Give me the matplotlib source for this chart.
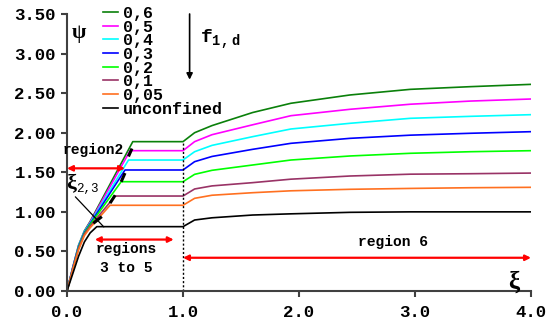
import matplotlib
matplotlib.use('Agg')
import matplotlib.pyplot as plt
from matplotlib.ticker import FormatStrFormatter

plt.rcParams['font.family'] = ['Liberation Mono', 'DejaVu Sans']
plt.rcParams['font.weight'] = 'bold'
plt.rcParams['mathtext.fontset'] = 'custom'
plt.rcParams['mathtext.rm'] = 'Liberation Mono'
plt.rcParams['mathtext.bf'] = 'Liberation Mono:bold'

# curves: confinement ratio f1,d -> (xi, psi) points
labels = ['0,6', '0,5', '0,4', '0,3', '0,2', '0,1', '0,05', 'unconfined']
colors = ['#0a800a', '#ff00ff', '#00ffff', '#0000ff', '#00ff00', '#993366', '#ff7020', 'black']

post_x = [1.0, 1.1, 1.25, 1.6, 1.93, 2.44, 2.96, 3.48, 4.0]

x_06 = [0, 0.05, 0.1, 0.15, 0.2, 0.567] + post_x
y_06 = [0, 0.30, 0.58, 0.76, 0.88, 1.887, 1.887, 2.0, 2.09, 2.255, 2.372, 2.477, 2.548, 2.582, 2.611]
x_05 = [0, 0.05, 0.1, 0.15, 0.2, 0.544] + post_x
y_05 = [0, 0.30, 0.57, 0.75, 0.87, 1.773, 1.773, 1.887, 1.975, 2.10, 2.215, 2.296, 2.36, 2.40, 2.426]
x_04 = [0, 0.05, 0.1, 0.15, 0.2, 0.53] + post_x
y_04 = [0, 0.29, 0.57, 0.75, 0.86, 1.655, 1.655, 1.76, 1.84, 1.95, 2.047, 2.119, 2.182, 2.207, 2.228]
x_03 = [0, 0.05, 0.1, 0.15, 0.2, 0.50] + post_x
y_03 = [0, 0.29, 0.56, 0.74, 0.85, 1.529, 1.529, 1.634, 1.70, 1.79, 1.866, 1.929, 1.969, 1.993, 2.013]
x_02 = [0, 0.05, 0.1, 0.15, 0.2, 0.467] + post_x
y_02 = [0, 0.28, 0.55, 0.73, 0.84, 1.381, 1.381, 1.474, 1.525, 1.592, 1.655, 1.706, 1.74, 1.76, 1.773]
x_01 = [0, 0.05, 0.1, 0.15, 0.2, 0.415] + post_x
y_01 = [0, 0.28, 0.54, 0.72, 0.82, 1.2, 1.2, 1.289, 1.328, 1.369, 1.413, 1.453, 1.476, 1.482, 1.49]
x_005 = [0, 0.05, 0.1, 0.15, 0.2, 0.371] + post_x
y_005 = [0, 0.27, 0.52, 0.70, 0.80, 1.083, 1.083, 1.171, 1.21, 1.242, 1.266, 1.285, 1.296, 1.305, 1.31]
x_unc = [0, 0.05, 0.1, 0.15, 0.2, 0.257] + post_x
y_unc = [0, 0.22, 0.44, 0.62, 0.735, 0.813, 0.813, 0.897, 0.925, 0.96, 0.975, 0.994, 1.0, 1.0, 1.0]

curves_x = [x_06, x_05, x_04, x_03, x_02, x_01, x_005, x_unc]
curves_y = [y_06, y_05, y_04, y_03, y_02, y_01, y_005, y_unc]

# thick black dashes marking xi_2,3
seg_x0 = [0.227, 0.371, 0.467, 0.53]
seg_y0 = [0.855, 1.11, 1.38, 1.70]
seg_x1 = [0.30, 0.415, 0.50, 0.56]
seg_y1 = [0.94, 1.21, 1.49, 1.80]

fig = plt.figure(figsize=(5.46, 3.27), dpi=100)
ax = fig.add_axes([67 / 546, 36 / 327, 464 / 546, 277 / 327])

for xs, ys, c, lab in zip(curves_x, curves_y, colors, labels):
    ax.plot(xs, ys, color=c, lw=1.2, label=lab)

for a, b, c, d in zip(seg_x0, seg_y0, seg_x1, seg_y1):
    ax.plot([a, c], [b, d], color='black', lw=2.2, solid_capstyle='butt')

# dotted line at xi = 1
ax.plot([1.0, 1.0], [0, y_06[6]], color='black', lw=1, ls=(0, (1.5, 1.5)))

# region arrows
red = dict(arrowstyle='<|-|>', color='red', lw=1.6, mutation_scale=8, shrinkA=0, shrinkB=0)
ax.annotate('', xy=(0.0, 1.55), xytext=(0.5, 1.55), arrowprops=red)
ax.annotate('', xy=(0.24, 0.65), xytext=(0.92, 0.65), arrowprops=red)
ax.annotate('', xy=(1.0, 0.42), xytext=(4.0, 0.42), arrowprops=red)

ax.text(0.225, 1.78, 'region2', fontsize=10.5, ha='center', va='center')
ax.text(0.515, 0.415, 'regions\n3 to 5', fontsize=10.5, ha='center', va='center',
        linespacing=1.45)
ax.text(2.81, 0.613, 'region 6', fontsize=10.5, ha='center', va='center')

# xi_2,3 label with leader line
ax.annotate('', xy=(0.317, 0.81), xytext=(0.072, 1.19),
            arrowprops=dict(arrowstyle='-', color='black', lw=0.9, shrinkA=0, shrinkB=0))
ax.text(0.035, 1.36, '\u03be', family='Liberation Serif', fontsize=16,
        ha='center', va='center')
ax.text(0.175, 1.29, '2,3', fontsize=9, ha='center', va='center', weight='normal')

# f1,d arrow
ax.annotate('', xy=(1.057, 2.67), xytext=(1.057, 3.5),
            arrowprops=dict(arrowstyle='-|>', color='black', lw=1.2, mutation_scale=9,
                            shrinkA=0, shrinkB=0))
ax.text(1.145, 3.17, r'$\mathbf{f}_{\mathrm{1,d}}$', fontsize=14, ha='left', va='center')

# axis symbols
ax.text(0.10, 3.26, '\u03c8', family='Liberation Serif', fontsize=15,
        ha='center', va='center')
ax.text(3.85, 0.11, '\u03be', family='Liberation Serif', fontsize=18,
        ha='center', va='center')

ax.set_xlim(0, 4)
ax.set_ylim(0, 3.5)
ax.set_xticks([0, 1, 2, 3, 4])
ax.set_yticks([0, 0.5, 1.0, 1.5, 2.0, 2.5, 3.0, 3.5])
ax.xaxis.set_major_formatter(FormatStrFormatter('%.1f'))
ax.yaxis.set_major_formatter(FormatStrFormatter('%.2f'))
for s in ['top', 'right']:
    ax.spines[s].set_visible(False)
for s in ['left', 'bottom']:
    ax.spines[s].set_color('#404040')
    ax.spines[s].set_linewidth(1.5)
ax.tick_params(direction='out', length=4, width=1.5, color='#404040',
               labelsize=12.5, pad=4)
ax.tick_params(axis='x', pad=6)

leg = ax.legend(loc='upper left', bbox_to_anchor=(103 / 546, 1 - 6 / 327),
                bbox_transform=fig.transFigure, frameon=False, fontsize=12,
                handlelength=0.9, handletextpad=0.3, labelspacing=-0.08,
                borderpad=0, borderaxespad=0)

fig.savefig('out.png', dpi=100)
